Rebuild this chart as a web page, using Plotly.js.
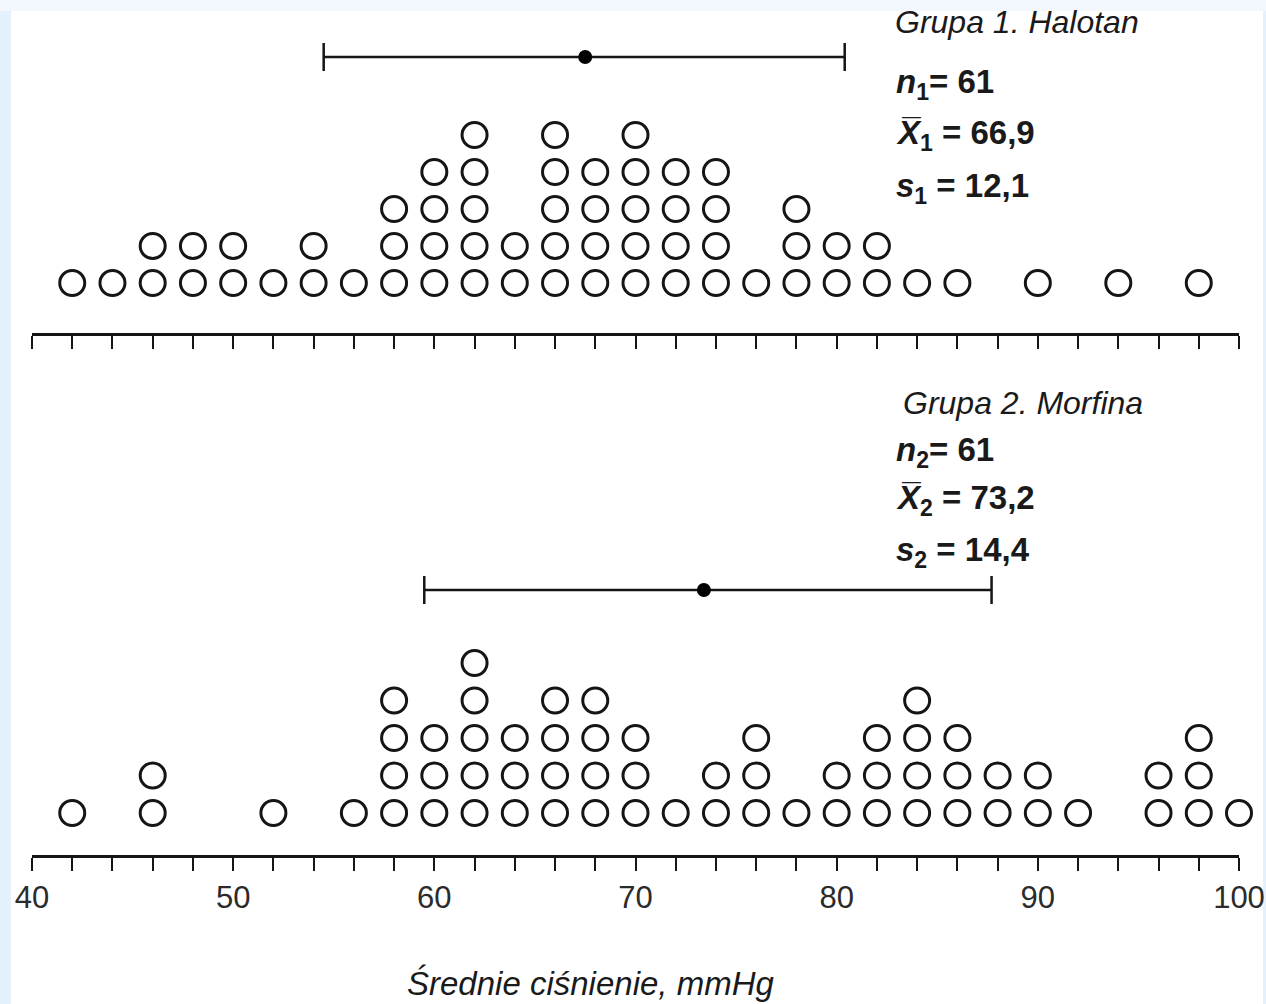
<!DOCTYPE html>
<html>
<head>
<meta charset="utf-8">
<script src="https://cdn.plot.ly/plotly-3.0.1.min.js"></script>
<style>
html,body{margin:0;padding:0;background:#f2f8fe;}
#chart{width:1266px;height:1004px;}
</style>
</head>
<body>
<div id="chart"></div>
<script>
// ---- data ----
const values1 = [42,44,46,48,50,52,54,56,58,60,62,64,66,68,70,72,74,76,78,80,82,84,86,90,94,98];
const counts1 = [1,1,2,2,2,1,2,1,3,4,5,2,5,4,5,4,4,1,3,2,2,1,1,1,1,1];
const values2 = [42,46,52,56,58,60,62,64,66,68,70,72,74,76,78,80,82,84,86,88,90,92,96,98,100];
const counts2 = [1,2,1,1,4,3,5,3,4,4,3,1,2,3,1,2,3,4,3,2,2,1,2,3,1];

// mean ± SD bars as drawn
const barMean = [67.5, 73.4];
const barLow  = [54.5, 59.5];
const barHigh = [80.4, 87.7];

const groupTitles = ['Grupa 1. Halotan', 'Grupa 2. Morfina'];
const groupN      = ['61', '61'];
const groupMean   = ['66,9', '73,2'];
const groupSD     = ['12,1', '14,4'];
const tickLabelVals = [40,50,60,70,80,90,100];
const tickLabelText = ['40','50','60','70','80','90','100'];
const axisTitle = 'Średnie ciśnienie, mmHg';

// ---- layout geometry (pixels) ----
const W = 1266, H = 1004, ML = 32, MR = 27, MT = 0, MB = 149;
const plotW = W - ML - MR, plotH = H - MT - MB;
const px2x = p => (p - ML) / plotW;
const py2y = p => (H - MB - p) / plotH;

// panel 1
const p1 = {axisPy: 333, row1Py: 283, rowPx: 37, topPy: 0, barPy: 57};
// panel 2
const p2 = {axisPy: 855, row1Py: 813, rowPx: 37.5, topPy: 560, barPy: 590};
function yRange(p){ return [1 - (p.axisPy - p.row1Py)/p.rowPx, 1 + (p.row1Py - p.topPy)/p.rowPx]; }
function yAt(p, py){ return 1 + (p.row1Py - py)/p.rowPx; }

function stack(values, counts){
  const xs = [], ys = [];
  values.forEach((v,i)=>{ for(let k=1;k<=counts[i];k++){ xs.push(v); ys.push(k); } });
  return {xs, ys};
}
const s1 = stack(values1, counts1);
const s2 = stack(values2, counts2);

const ink = '#151515';
const dotMarker = {symbol:'circle-open', size:25, color:ink, line:{width:3, color:ink}};

const traces = [
  {type:'scatter', mode:'markers', x:s1.xs, y:s1.ys, xaxis:'x', yaxis:'y', marker:dotMarker, cliponaxis:false, hoverinfo:'skip'},
  {type:'scatter', mode:'markers', x:s2.xs, y:s2.ys, xaxis:'x2', yaxis:'y2', marker:dotMarker, cliponaxis:false, hoverinfo:'skip'},
  {type:'scatter', mode:'markers', x:[barMean[0]], y:[yAt(p1,p1.barPy)], xaxis:'x', yaxis:'y',
   marker:{size:14, color:'#000'}, cliponaxis:false, hoverinfo:'skip',
   error_x:{type:'data', symmetric:false, array:[barHigh[0]-barMean[0]], arrayminus:[barMean[0]-barLow[0]], thickness:2.5, width:14, color:ink}},
  {type:'scatter', mode:'markers', x:[barMean[1]], y:[yAt(p2,p2.barPy)], xaxis:'x2', yaxis:'y2',
   marker:{size:14, color:'#000'}, cliponaxis:false, hoverinfo:'skip',
   error_x:{type:'data', symmetric:false, array:[barHigh[1]-barMean[1]], arrayminus:[barMean[1]-barLow[1]], thickness:2.5, width:14, color:ink}}
];

const baseX = {
  range:[40,100], showgrid:false, zeroline:false, showline:true, linecolor:ink, linewidth:3,
  ticks:'outside', ticklen:13, tickwidth:2, tickcolor:ink,
  tickmode:'array', tickvals:tickLabelVals, ticktext:tickLabelText,
  minor:{dtick:2, tick0:40, ticks:'outside', ticklen:13, tickwidth:2, tickcolor:ink, showgrid:false},
  fixedrange:true
};
const baseY = {showgrid:false, zeroline:false, showline:false, showticklabels:false, ticks:'', fixedrange:true};

const fontText = 'Liberation Sans, Arial, sans-serif';
const annotations = [];
function addGroupText(i, titlePy, titlePx, nPy, mPy, sPy, textPx){
  annotations.push({xref:'paper', yref:'paper', x:px2x(titlePx), y:py2y(titlePy), xanchor:'left', yanchor:'middle',
    text:'<i>'+groupTitles[i]+'</i>', showarrow:false, font:{family:fontText, size:32, color:'#1a1a1a'}});
  const sub = String(i+1);
  const st = {family:fontText, size:33, color:'#1a1a1a'};
  annotations.push({xref:'paper', yref:'paper', x:px2x(textPx), y:py2y(nPy), xanchor:'left', yanchor:'middle',
    text:'<b><i>n</i><sub>'+sub+'</sub>= '+groupN[i]+'</b>', showarrow:false, font:st});
  annotations.push({xref:'paper', yref:'paper', x:px2x(textPx), y:py2y(mPy), xanchor:'left', yanchor:'middle',
    text:'<b><i>X\u0305</i><sub>'+sub+'</sub> = '+groupMean[i]+'</b>', showarrow:false, font:st});
  annotations.push({xref:'paper', yref:'paper', x:px2x(textPx), y:py2y(sPy), xanchor:'left', yanchor:'middle',
    text:'<b><i>s</i><sub>'+sub+'</sub> = '+groupSD[i]+'</b>', showarrow:false, font:st});
}
addGroupText(0, 22, 893, 84, 135, 188, 894);
addGroupText(1, 403, 901, 452, 500, 552, 894);
annotations.push({xref:'paper', yref:'paper', x:px2x(590), y:py2y(983), xanchor:'center', yanchor:'middle',
  text:'<i>'+axisTitle+'</i>', showarrow:false, font:{family:fontText, size:33, color:'#1a1a1a'}});

const layout = {
  width:W, height:H,
  margin:{l:ML, r:MR, t:MT, b:MB, pad:0},
  paper_bgcolor:'#f2f8fe', plot_bgcolor:'rgba(0,0,0,0)',
  showlegend:false, hovermode:false,
  font:{family:fontText, size:31, color:'#2b2b2b'},
  xaxis:Object.assign({}, baseX, {anchor:'y', showticklabels:false}),
  yaxis:Object.assign({}, baseY, {domain:[py2y(p1.axisPy), py2y(p1.topPy)], range:yRange(p1), anchor:'x'}),
  xaxis2:Object.assign({}, baseX, {anchor:'y2', showticklabels:true, tickfont:{family:fontText, size:31, color:'#2b2b2b'}}),
  yaxis2:Object.assign({}, baseY, {domain:[py2y(p2.axisPy), py2y(p2.topPy)], range:yRange(p2), anchor:'x2'}),
  shapes:[
    {type:'rect', xref:'paper', yref:'paper', layer:'below', x0:px2x(11), x1:px2x(1263), y0:py2y(1010), y1:py2y(11), fillcolor:'#ffffff', line:{width:0}},
    {type:'rect', xref:'paper', yref:'paper', layer:'below', x0:px2x(-5), x1:px2x(11), y0:py2y(1010), y1:py2y(11), fillcolor:'#e4f1fc', line:{width:0}},
    {type:'rect', xref:'paper', yref:'paper', layer:'below', x0:px2x(1263), x1:px2x(1275), y0:py2y(1010), y1:py2y(11), fillcolor:'#e4f1fc', line:{width:0}}
  ],
  annotations:annotations
};

Plotly.newPlot('chart', traces, layout, {displayModeBar:false, staticPlot:true});
</script>
</body>
</html>
